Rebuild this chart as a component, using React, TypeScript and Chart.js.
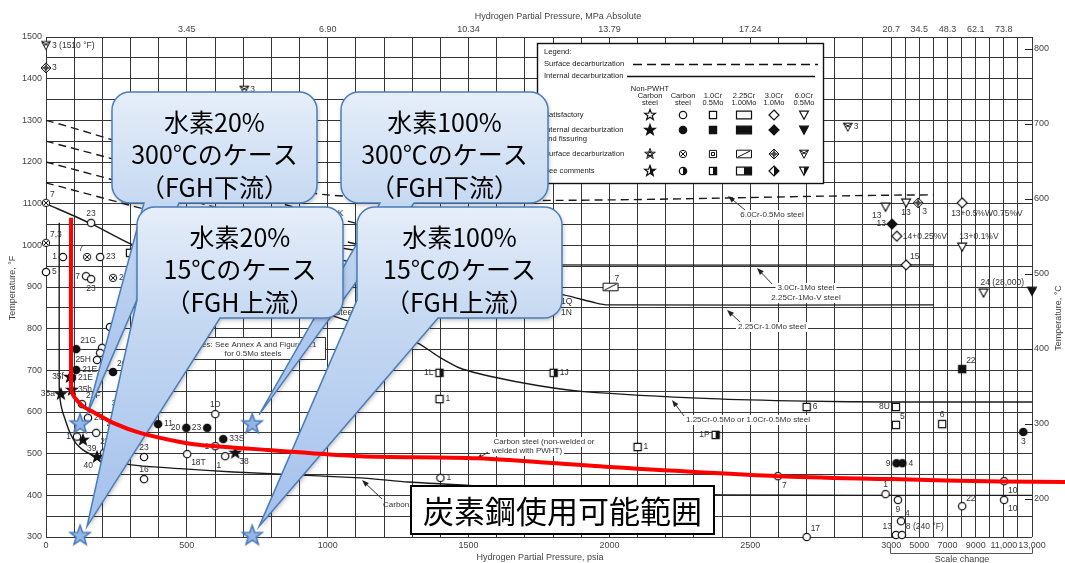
import React, { useEffect, useRef } from 'react';
import { Chart, registerables } from 'chart.js';

Chart.register(...registerables);

const W = 1065;
const H = 563;
const SANS = '"Liberation Sans", Arial, Helvetica, sans-serif';
const CJK = '"Noto Sans CJK JP", "Noto Sans CJK SC", sans-serif';
const INK = '#111';
const GRID = '#363636';
const TICK = '#444';
const LABEL = '#333';

// pressure axis: linear to 3000 psia, then "scale change" (1000 psia = 50 axis units)
const BREAK = 3000;
const HIGH_COMPRESSION = 20;
const vx = (p: number) => (p <= BREAK ? p : BREAK + (p - BREAK) / HIGH_COMPRESSION);
const fToC = (f: number) => ((f - 32) * 5) / 9;

// ---------- axis ticks ----------
const psiaLowLabels = [0, 500, 1000, 1500, 2000, 2500, 3000];
const psiaHighTicks = [5000, 7000, 9000, 11000, 13000];
const psiaHighLabels = ['5000', '7000', '9000', '11,000', '13,000'];
const mpaTickPsia = [500, 1000, 1500, 2000, 2500, 3000, 5000, 7000, 9000, 11000];
const mpaTickLabels = ['3.45', '6.90', '10.34', '13.79', '17.24', '20.7', '34.5', '48.3', '62.1', '73.8'];
const celsiusTicks = [200, 300, 400, 500, 600, 700, 800];

// ---------- curves (psia, °F) ----------
const redPsia = [89, 89, 95, 110, 135, 167, 238, 334, 476, 547, 785, 1116, 1532, 2000, 2598, 3000, 10800, 15400];
const redF = [1066, 660, 642, 628, 612, 600, 574, 550, 528, 521, 509, 494, 489, 468, 446, 439, 433, 432];

const carbonPsia = [47, 47, 50, 57, 70, 85, 105, 131, 160, 192, 263, 345, 476, 665, 1116, 1286, 1500, 1800, 2100, 2400, 3000, 13000];
const carbonF = [1054, 660, 630, 605, 578, 550, 526, 509, 498, 490, 478, 470, 464, 456, 442, 432, 424, 414, 407, 401, 400, 400];

const cr125Psia = [0, 160, 298, 450, 700, 1000, 1200, 1318, 1389, 1471, 1588, 1750, 1908, 2360, 2700, 3000, 13000];
const cr125F = [1100, 1052, 1004, 965, 905, 835, 790, 766, 735, 705, 684, 663, 649, 632, 626, 624, 624];

const cr225Psia = [500, 1000, 1400, 1700, 1837, 1950, 1994, 6000];
const cr225F = [1030, 970, 925, 895, 881, 862, 857, 857];

const cr3Psia = [300, 700, 1080, 1450, 1603, 6000];
const cr3F = [1110, 1040, 990, 960, 953, 953];

const surf1Psia = [0, 1000, 6000];
const surf1F = [1300, 1121, 1121];
const surf2Psia = [0, 1100, 1500];
const surf2F = [1250, 1053, 985];
const surf3Psia = [0, 1100, 1400];
const surf3F = [1200, 1003, 960];
const surf4Psia = [0, 1100, 1300];
const surf4F = [1150, 953, 930];

// ---------- experience points [psia, °F, note] ----------
type Pt = [number, number, string];

const openCircles: Pt[] = [
  [160, 1054, '23'], [60, 972, '1'], [192, 972, '23'], [0, 936, '5'], [142, 926, '7'], [160, 919, '23'],
  [227, 804, ''], [199, 754, ''], [192, 742, ''], [181, 725, '25H'], [128, 619, '21F'], [149, 586, '23'],
  [110, 541, '1'], [178, 550, '23'], [206, 502, '23'], [270, 571, '23'], [348, 492, '23'], [348, 439, '16'],
  [601, 595, '1D'], [601, 518, '1'], [636, 494, '1'], [501, 499, '18T'], [1400, 442, '1'], [2598, 446, '7'],
  [11020, 434, '10'], [2980, 403, '1'], [3480, 389, '9'], [8040, 374, '22'], [11020, 389, '10'], [3700, 338, '4'],
  [3340, 305, '13'], [3760, 305, '8 (240 °F)'], [2700, 300, '17'],
];
const openCircleSides = [
  'a', 'l', 'r', 'r', 'l', 'b', '', '', '', 'l', 'ar', 'r', 'l', 'br', 'ar', 'l', 'a', 'a', 'a', 'l', 'bl', 'br',
  'r', 'br', 'br', 'a', 'b', 'ar', 'br', 'ar', 'al', 'ar', 'ar',
];

const filledCircles: Pt[] = [
  [107, 751, '21G'], [107, 701, '21E'], [92, 682, '21E'], [238, 696, '26'], [398, 571, '11'], [498, 562, '20'],
  [572, 562, '23'], [629, 535, '33S'], [3380, 477, '9'], [3800, 477, '4'], [12380, 552, '3'],
];
const filledCircleSides = ['ar', 'r', 'r', 'ar', 'r', 'l', 'l', 'r', 'l', 'r', 'b'];

const crossedCircles: Pt[] = [[0, 1102, '7'], [0, 1006, '7,3'], [146, 972, '7'], [238, 922, '23']];
const crossedCircleSides = ['ar', 'ar', 'al', 'r'];

const filledStars: Pt[] = [
  [85, 684, '35f'], [53, 643, '35a'], [92, 653, '35h'], [131, 533, '39'], [181, 492, '40'], [281, 600, '37'], [672, 502, '38'],
];
const filledStarSides = ['l', 'l', 'r', 'br', 'bl', 'al', 'br'];

const openSquares: Pt[] = [
  [298, 982, ''], [1397, 631, '1'], [2100, 516, '1'], [2700, 612, '6'], [3340, 612, '8U'], [3340, 569, '5'], [6620, 571, '6'],
];
const openSquareSides = ['', 'r', 'r', 'r', 'l', 'ar', 'a'];

const halfSquares: Pt[] = [[1397, 694, '1L'], [1802, 694, '1J'], [2377, 545, '1P']];
const halfSquareSides = ['l', 'r', 'l'];

const filledSquares: Pt[] = [[8040, 703, '22']];
const filledSquareSides = ['ar'];

const slashedRects: Pt[] = [[2004, 900, '7']];
const slashedRectSides = ['ar'];

const openDiamonds: Pt[] = [[8040, 1102, '13+0.5%W0.75%V'], [3400, 1022, '14+0.25%V'], [4060, 953, '15']];
const openDiamondSides = ['bL', 'r', 'ar'];

const filledDiamonds: Pt[] = [[3060, 1051, '13']];
const filledDiamondSides = ['l'];

const crossedDiamonds: Pt[] = [[0, 1426, '3'], [4920, 1102, '3']];
const crossedDiamondSides = ['r', 'br'];

const openTriangles: Pt[] = [[2980, 1092, '13'], [4060, 1102, '13'], [8040, 996, '13+0.1%V'], [9560, 886, '24 (28,000)']];
const openTriangleSides = ['bl', 'b', 'aL', 'aL'];

const filledTriangles: Pt[] = [[13000, 890, '']];
const filledTriangleSides = [''];

const crossedTriangles: Pt[] = [[0, 1480, '3 (1510 °F)'], [704, 1373, '3'], [2846, 1284, '3']];
const crossedTriangleSides = ['r', 'r', 'r'];

// the four study cases (H2 partial pressure, temperature); 15 °C cases sit on the bottom of the axis
const casePsia = [121, 121, 732, 732];
const caseF = [572, 304, 572, 304];

// ---------- text ----------
const calloutTexts = [
  ['水素20%', '300℃のケース', '（FGH下流）'],
  ['水素100%', '300℃のケース', '（FGH下流）'],
  ['水素20%', '15℃のケース', '（FGH上流）'],
  ['水素100%', '15℃のケース', '（FGH上流）'],
];
const usableRangeText = '炭素鋼使用可能範囲';

const SIDE: Record<string, [number, number, CanvasTextAlign]> = {
  r: [6, 0, 'left'], l: [-6, 0, 'right'], a: [0, -9, 'center'], b: [0, 10, 'center'],
  ar: [4, -8, 'left'], al: [-4, -8, 'right'], br: [4, 9, 'left'], bl: [-4, 9, 'right'],
  bL: [-11, 11, 'left'], aL: [-3, -10, 'left'], '': [0, 0, 'left'],
};

// ---------- glyphs ----------
function starTo(g: CanvasRenderingContext2D, cx: number, cy: number, R: number, r: number) {
  for (let i = 0; i < 10; i++) {
    const a = -Math.PI / 2 + (i * Math.PI) / 5;
    const rr = i % 2 ? r : R;
    const px = cx + rr * Math.cos(a);
    const py = cy + rr * Math.sin(a);
    if (i) g.lineTo(px, py);
    else g.moveTo(px, py);
  }
  g.closePath();
}

function shapePath(g: CanvasRenderingContext2D, shape: string, cx: number, cy: number) {
  g.beginPath();
  if (shape === 'circle') g.arc(cx, cy, 3.7, 0, Math.PI * 2);
  else if (shape === 'square') g.rect(cx - 3.6, cy - 3.6, 7.2, 7.2);
  else if (shape === 'rect') g.rect(cx - 7.5, cy - 3.8, 15, 7.6);
  else if (shape === 'diamond') {
    g.moveTo(cx, cy - 5); g.lineTo(cx + 5, cy); g.lineTo(cx, cy + 5); g.lineTo(cx - 5, cy); g.closePath();
  } else if (shape === 'tri') {
    g.moveTo(cx - 4.4, cy - 3.8); g.lineTo(cx + 4.4, cy - 3.8); g.lineTo(cx, cy + 4.3); g.closePath();
  } else if (shape === 'star') starTo(g, cx, cy, 5.6, 2.3);
}

function paintGlyph(g: CanvasRenderingContext2D, shape: string, fill: string, cx: number, cy: number) {
  g.save();
  g.lineWidth = 1.2;
  g.strokeStyle = INK;
  shapePath(g, shape, cx, cy);
  g.fillStyle = fill === 'filled' ? INK : '#fff';
  g.fill();
  if (fill === 'half') {
    g.save();
    shapePath(g, shape, cx, cy);
    g.clip();
    g.fillStyle = INK;
    g.fillRect(cx, cy - 9, 10, 18);
    g.restore();
  }
  if (fill === 'surface') {
    g.beginPath();
    if (shape === 'circle') {
      g.moveTo(cx - 2.2, cy - 2.2); g.lineTo(cx + 2.2, cy + 2.2); g.moveTo(cx + 2.2, cy - 2.2); g.lineTo(cx - 2.2, cy + 2.2);
    } else if (shape === 'square') g.rect(cx - 1.5, cy - 1.5, 3, 3);
    else if (shape === 'rect') { g.moveTo(cx - 6, cy + 3); g.lineTo(cx + 6, cy - 3); }
    else if (shape === 'diamond') {
      g.moveTo(cx, cy - 5); g.lineTo(cx, cy + 5); g.moveTo(cx - 5, cy); g.lineTo(cx + 5, cy);
      g.moveTo(cx, cy - 2.4); g.lineTo(cx + 2.4, cy); g.lineTo(cx, cy + 2.4); g.lineTo(cx - 2.4, cy); g.closePath();
    } else if (shape === 'tri') {
      g.moveTo(cx - 4.4, cy - 3.8); g.lineTo(cx + 2.2, cy + 0.3); g.moveTo(cx + 4.4, cy - 3.8); g.lineTo(cx - 2.2, cy + 0.3);
    } else if (shape === 'star') starTo(g, cx, cy, 2.7, 1.2);
    g.lineWidth = 1;
    g.stroke();
  }
  shapePath(g, shape, cx, cy);
  g.stroke();
  g.restore();
}

function glyphCanvas(shape: string, fill: string) {
  const c = document.createElement('canvas');
  c.width = 20;
  c.height = 20;
  paintGlyph(c.getContext('2d') as CanvasRenderingContext2D, shape, fill, 10, 10);
  return c;
}

function caseStarCanvas() {
  const c = document.createElement('canvas');
  c.width = 26;
  c.height = 26;
  const g = c.getContext('2d') as CanvasRenderingContext2D;
  g.beginPath();
  starTo(g, 13, 13.5, 10.5, 4.3);
  g.fillStyle = '#93b6e6';
  g.fill();
  g.lineWidth = 1.5;
  g.strokeStyle = '#4a78b8';
  g.stroke();
  return c;
}

const markerSeries = [
  { pts: openCircles, sides: openCircleSides, shape: 'circle', fill: 'open' },
  { pts: filledCircles, sides: filledCircleSides, shape: 'circle', fill: 'filled' },
  { pts: crossedCircles, sides: crossedCircleSides, shape: 'circle', fill: 'surface' },
  { pts: filledStars, sides: filledStarSides, shape: 'star', fill: 'filled' },
  { pts: openSquares, sides: openSquareSides, shape: 'square', fill: 'open' },
  { pts: halfSquares, sides: halfSquareSides, shape: 'square', fill: 'half' },
  { pts: filledSquares, sides: filledSquareSides, shape: 'square', fill: 'filled' },
  { pts: slashedRects, sides: slashedRectSides, shape: 'rect', fill: 'surface' },
  { pts: openDiamonds, sides: openDiamondSides, shape: 'diamond', fill: 'open' },
  { pts: filledDiamonds, sides: filledDiamondSides, shape: 'diamond', fill: 'filled' },
  { pts: crossedDiamonds, sides: crossedDiamondSides, shape: 'diamond', fill: 'surface' },
  { pts: openTriangles, sides: openTriangleSides, shape: 'tri', fill: 'open' },
  { pts: filledTriangles, sides: filledTriangleSides, shape: 'tri', fill: 'filled' },
  { pts: crossedTriangles, sides: crossedTriangleSides, shape: 'tri', fill: 'surface' },
];

// ---------- annotation layout (pixels) ----------
const callouts = [
  { x: 112, y: 92, w: 205, h: 111, star: 0, base: [144, 179] },
  { x: 341, y: 92, w: 207, h: 111, star: 2, base: [380, 414] },
  { x: 137, y: 207, w: 206, h: 111, star: 1, base: [0, 220] },
  { x: 357, y: 207, w: 205, h: 111, star: 3, base: [0, 438] },
];

const curveLabels = [
  { t: '6.0Cr-0.5Mo steel', x: 772, y: 215 },
  { t: '3.0Cr-1Mo steel', x: 806, y: 288 },
  { t: '2.25Cr-1Mo-V steel', x: 806, y: 298 },
  { t: '2.25Cr-1.0Mo steel', x: 772, y: 327 },
  { t: '1.25Cr-0.5Mo or 1.0Cr-0.5Mo steel', x: 748, y: 420 },
  { t: 'Carbon steel (non-welded or', x: 544, y: 442 },
  { t: 'welded with PWHT)', x: 527, y: 451 },
];
const arrows = [
  [745, 210, 728, 196], [772, 284, 757, 268], [740, 322, 727, 310], [684, 416, 672, 400],
  [488, 452, 476, 460], [382, 499, 362, 480],
];

function arrow(g: CanvasRenderingContext2D, x1: number, y1: number, x2: number, y2: number) {
  const a = Math.atan2(y2 - y1, x2 - x1);
  g.beginPath();
  g.moveTo(x1, y1);
  g.lineTo(x2 - 4 * Math.cos(a), y2 - 4 * Math.sin(a));
  g.strokeStyle = '#333';
  g.lineWidth = 1;
  g.stroke();
  g.beginPath();
  g.moveTo(x2, y2);
  g.lineTo(x2 - 7 * Math.cos(a) + 2.6 * Math.sin(a), y2 - 7 * Math.sin(a) - 2.6 * Math.cos(a));
  g.lineTo(x2 - 7 * Math.cos(a) - 2.6 * Math.sin(a), y2 - 7 * Math.sin(a) + 2.6 * Math.cos(a));
  g.closePath();
  g.fillStyle = '#222';
  g.fill();
}

function calloutPath(g: CanvasRenderingContext2D, c: any, tx: number, ty: number) {
  const { x, y, w, h } = c;
  const r = 18;
  const b = y + h;
  g.beginPath();
  g.moveTo(x + r, y);
  g.lineTo(x + w - r, y);
  g.arcTo(x + w, y, x + w, y + r, r);
  g.lineTo(x + w, b - r);
  g.arcTo(x + w, b, x + w - r, b, r);
  g.lineTo(c.base[1], b);
  g.lineTo(tx, ty);
  if (c.base[0] <= x) {
    g.lineTo(x, b - r);
  } else {
    g.lineTo(c.base[0], b);
    g.lineTo(x + r, b);
    g.arcTo(x, b, x, b - r, r);
  }
  g.lineTo(x, y + r);
  g.arcTo(x, y, x + r, y, r);
  g.closePath();
}

function drawOverlay(chart: any) {
  const g: CanvasRenderingContext2D = chart.ctx;
  const xs = chart.scales.x;
  const ys = chart.scales.y;
  const P = (p: number, f: number) => ({ x: xs.getPixelForValue(vx(p)), y: ys.getPixelForValue(f) });
  g.save();

  // point notes
  g.font = `8.5px ${SANS}`;
  g.fillStyle = LABEL;
  g.textBaseline = 'middle';
  for (const s of markerSeries) {
    s.pts.forEach((p, i) => {
      if (!p[2]) return;
      const q = P(p[0], p[1]);
      const sd = SIDE[s.sides[i]] || SIDE.r;
      g.textAlign = sd[2];
      g.fillText(p[2], q.x + sd[0], q.y + sd[1]);
    });
  }
  g.textAlign = 'left';
  g.fillText('1Q', 561, 302);
  g.fillText('1N', 561, 313);
  g.textAlign = 'center';
  g.fillText('K', 340.5, 214);
  g.textAlign = 'right';
  g.fillText('steel', 354, 313);

  // curve labels
  g.font = `8px ${SANS}`;
  g.textAlign = 'center';
  for (const l of curveLabels) {
    const w = g.measureText(l.t).width;
    g.fillStyle = '#fff';
    g.fillRect(l.x - w / 2 - 2, l.y - 5, w + 4, 10);
  }
  g.fillStyle = LABEL;
  for (const l of curveLabels) g.fillText(l.t, l.x, l.y);
  g.textAlign = 'left';
  g.fillText('Carbon steel (welded without PWHT)', 383, 505);
  for (const a of arrows) arrow(g, a[0], a[1], a[2], a[3]);

  // annex note
  g.fillStyle = '#fff';
  g.fillRect(180, 337, 146, 23);
  g.strokeStyle = '#333';
  g.lineWidth = 1;
  g.strokeRect(180.5, 337.5, 145, 22);
  g.fillStyle = LABEL;
  g.textAlign = 'center';
  g.fillText('Notes: See Annex A and Figure A.1', 253, 345);
  g.fillText('for 0.5Mo steels', 253, 354);

  // legend
  g.fillStyle = '#fff';
  g.fillRect(537, 43, 286, 140);
  g.strokeStyle = INK;
  g.lineWidth = 1.4;
  g.strokeRect(537.5, 43.5, 286, 140);
  g.fillStyle = '#222';
  g.textAlign = 'left';
  g.font = `7.6px ${SANS}`;
  g.fillText('Legend:', 544, 52);
  g.fillText('Surface decarburization', 544, 64);
  g.fillText('Internal decarburization', 544, 76);
  g.fillText('Satisfactory', 544, 115);
  g.fillText('Internal decarburization', 544, 130);
  g.fillText('and fissuring', 544, 139);
  g.fillText('Surface decarburization', 544, 154);
  g.fillText('See comments', 544, 171);
  g.beginPath();
  g.setLineDash([9, 5]);
  g.moveTo(633, 64.5);
  g.lineTo(818, 64.5);
  g.strokeStyle = INK;
  g.lineWidth = 1.4;
  g.stroke();
  g.setLineDash([]);
  g.beginPath();
  g.moveTo(627, 76.5);
  g.lineTo(815, 76.5);
  g.stroke();
  const colX = [650, 683, 713, 744, 774, 804];
  const heads = [['Non-PWHT', 'Carbon', 'steel'], ['Carbon', 'steel'], ['1.0Cr', '0.5Mo'], ['2.25Cr', '1.00Mo'], ['3.0Cr', '1.0Mo'], ['6.0Cr', '0.5Mo']];
  const shapes = ['star', 'circle', 'square', 'rect', 'diamond', 'tri'];
  const fills = ['open', 'filled', 'surface', 'half'];
  const rowY = [115, 130, 154, 171];
  g.font = `7.5px ${SANS}`;
  g.textAlign = 'center';
  heads.forEach((h, i) => {
    const y0 = 103 - (h.length - 1) * 7;
    h.forEach((t, j) => g.fillText(t, colX[i], y0 + j * 7));
  });
  shapes.forEach((s, i) => fills.forEach((f, j) => paintGlyph(g, s, f, colX[i], rowY[j])));

  // callouts (upper pair first, lower pair overlaps them)
  for (const c of callouts) {
    const st = P(casePsia[c.star], caseF[c.star]);
    const tx = st.x + 7;
    const ty = st.y - 9;
    const grad = g.createLinearGradient(0, c.y, 0, ty);
    grad.addColorStop(0, '#e6eef9');
    grad.addColorStop(Math.min(1, c.h / (ty - c.y)), '#c6d9f2');
    grad.addColorStop(1, '#a3c0ec');
    g.save();
    calloutPath(g, c, tx, ty);
    g.shadowColor = 'rgba(0,0,0,0.28)';
    g.shadowBlur = 4;
    g.shadowOffsetX = 1;
    g.shadowOffsetY = 2;
    g.fillStyle = grad;
    g.fill();
    g.restore();
    calloutPath(g, c, tx, ty);
    g.strokeStyle = '#4a7ebb';
    g.lineWidth = 1.5;
    g.stroke();
    const lines = calloutTexts[callouts.indexOf(c)];
    g.fillStyle = '#000';
    g.font = `25px ${CJK}`;
    g.textAlign = 'center';
    g.textBaseline = 'middle';
    lines.forEach((t, i) => g.fillText(t, c.x + c.w / 2, c.y + 30 + i * 32.5));
  }

  // usable range box
  g.fillStyle = '#fff';
  g.fillRect(410, 485, 305, 50);
  g.strokeStyle = '#000';
  g.lineWidth = 2;
  g.strokeRect(411, 486, 303, 48);
  g.fillStyle = '#000';
  g.font = `31px ${CJK}`;
  g.textAlign = 'center';
  g.textBaseline = 'middle';
  g.fillText(usableRangeText, 562.5, 511);
  g.restore();
}

function drawFrame(chart: any) {
  const g: CanvasRenderingContext2D = chart.ctx;
  const y2 = chart.scales.y2;
  g.save();
  g.fillStyle = TICK;
  g.font = `9px ${SANS}`;
  g.textAlign = 'center';
  g.textBaseline = 'middle';
  g.fillText('Hydrogen Partial Pressure, MPa Absolute', 558, 17);
  g.fillText('Hydrogen Partial Pressure, psia', 540, 558);
  g.fillText('Scale change', 962, 560);
  g.save();
  g.translate(13, 288);
  g.rotate(-Math.PI / 2);
  g.fillText('Temperature, °F', 0, 0);
  g.restore();
  g.save();
  g.translate(1059, 318);
  g.rotate(-Math.PI / 2);
  g.fillText('Temperature, °C', 0, 0);
  g.restore();
  g.strokeStyle = '#555';
  g.lineWidth = 1;
  g.beginPath();
  g.moveTo(890.5, 547);
  g.lineTo(890.5, 553.5);
  g.lineTo(1032.5, 553.5);
  g.lineTo(1032.5, 547);
  g.stroke();
  g.strokeStyle = '#222';
  g.beginPath();
  for (const c of celsiusTicks) {
    const y = Math.round(y2.getPixelForValue(c)) + 0.5;
    g.moveTo(1025, y);
    g.lineTo(1033, y);
  }
  g.stroke();
  g.restore();
}

const overlayPlugin = {
  id: 'nelsonOverlay',
  beforeDatasetDraw(chart: any, args: any) {
    if (chart.data.datasets[args.index] && chart.data.datasets[args.index].label === 'usable') drawOverlay(chart);
  },
  afterDraw(chart: any) {
    drawFrame(chart);
  },
};

const xy = (ps: number[], fs: number[]) => ps.map((p, i) => ({ x: vx(p), y: fs[i] }));

function curve(label: string, ps: number[], fs: number[], dashed = false) {
  return {
    type: 'line', label, data: xy(ps, fs), borderColor: '#1a1a1a', borderWidth: 1.4,
    borderDash: dashed ? [8, 5] : [], pointRadius: 0, tension: 0.25, fill: false, clip: false, order: 30,
    xAxisID: 'x', yAxisID: 'y',
  };
}

export default function App() {
  const ref = useRef<HTMLCanvasElement>(null);
  useEffect(() => {
    const canvas = ref.current as HTMLCanvasElement;
    const xGrid: number[] = [];
    for (let p = 0; p <= 3000; p += 100) xGrid.push(p);
    for (let p = 4000; p <= 13000; p += 1000) xGrid.push(vx(p));
    const yGrid: number[] = [];
    for (let f = 300; f <= 1500; f += 50) yGrid.push(f);

    const markerSets = markerSeries.map((s) => ({
      type: 'scatter', label: s.shape + s.fill,
      data: s.pts.map((p) => ({ x: vx(p[0]), y: p[1] })),
      pointStyle: glyphCanvas(s.shape, s.fill), pointRadius: 4, clip: false, order: 20,
      xAxisID: 'x', yAxisID: 'y',
    }));

    const datasets: any[] = [
      curve('carbon', carbonPsia, carbonF),
      curve('cr125', cr125Psia, cr125F),
      curve('cr225', cr225Psia, cr225F),
      curve('cr3', cr3Psia, cr3F),
      curve('surf1', surf1Psia, surf1F, true),
      curve('surf2', surf2Psia, surf2F, true),
      curve('surf3', surf3Psia, surf3F, true),
      curve('surf4', surf4Psia, surf4F, true),
      ...markerSets,
      {
        type: 'line', label: 'usable', data: xy(redPsia, redF), borderColor: '#ff0000', borderWidth: 4,
        pointRadius: 0, tension: 0.3, fill: false, clip: false, order: 2, xAxisID: 'x', yAxisID: 'y',
      },
      {
        type: 'scatter', label: 'cases', data: xy(casePsia, caseF), pointStyle: caseStarCanvas(),
        pointRadius: 6, clip: false, order: 1, xAxisID: 'x', yAxisID: 'y',
      },
    ];

    const tickFont = { family: SANS, size: 9 };
    const chart = new Chart(canvas, {
      type: 'scatter',
      data: { datasets },
      plugins: [overlayPlugin],
      options: {
        animation: false,
        responsive: false,
        events: [],
        layout: { padding: 0 },
        plugins: { legend: { display: false }, tooltip: { enabled: false } },
        scales: {
          x: {
            type: 'linear', position: 'bottom', min: 0, max: vx(13000),
            afterBuildTicks: (a: any) => { a.ticks = xGrid.map((value) => ({ value })); },
            afterFit: (a: any) => { a.height = 26; },
            grid: { color: GRID, lineWidth: 1, drawTicks: false },
            border: { display: false },
            ticks: {
              autoSkip: false, maxRotation: 0, padding: 3, color: TICK, font: tickFont,
              callback: (v: number) => {
                if (v <= BREAK) return psiaLowLabels.includes(v) ? String(v) : '';
                const i = psiaHighTicks.indexOf(Math.round(BREAK + (v - BREAK) * HIGH_COMPRESSION));
                return i >= 0 ? psiaHighLabels[i] : '';
              },
            },
          },
          x2: {
            type: 'linear', position: 'top', min: 0, max: vx(13000),
            afterBuildTicks: (a: any) => { a.ticks = mpaTickPsia.map((p) => ({ value: vx(p) })); },
            afterFit: (a: any) => { a.height = 37; },
            grid: { display: false, drawTicks: false },
            border: { display: false },
            ticks: {
              autoSkip: false, maxRotation: 0, padding: 2, color: TICK, font: tickFont,
              callback: (v: number, i: number) => mpaTickLabels[i] ?? '',
            },
          },
          y: {
            type: 'linear', position: 'left', min: 300, max: 1500,
            afterBuildTicks: (a: any) => { a.ticks = yGrid.map((value) => ({ value })); },
            afterFit: (a: any) => { a.width = 46; },
            grid: { color: GRID, lineWidth: 1, drawTicks: false },
            border: { display: false },
            ticks: {
              autoSkip: false, padding: 4, color: TICK, font: tickFont,
              callback: (v: number) => (v % 100 === 0 ? String(v) : ''),
            },
          },
          y2: {
            type: 'linear', position: 'right', min: fToC(300), max: fToC(1500),
            afterBuildTicks: (a: any) => { a.ticks = celsiusTicks.map((value) => ({ value })); },
            afterFit: (a: any) => { a.width = 33; },
            grid: { display: false, drawTicks: false },
            border: { display: false },
            ticks: { autoSkip: false, padding: 2, color: TICK, font: tickFont, callback: (v: number) => String(v) },
          },
        },
      },
    } as any);
    return () => chart.destroy();
  }, []);

  return (
    <div style={{ position: 'fixed', left: 0, top: 0, width: W, height: H, background: '#fff' }}>
      <canvas ref={ref} width={W} height={H} style={{ display: 'block', width: W, height: H }} />
    </div>
  );
}
